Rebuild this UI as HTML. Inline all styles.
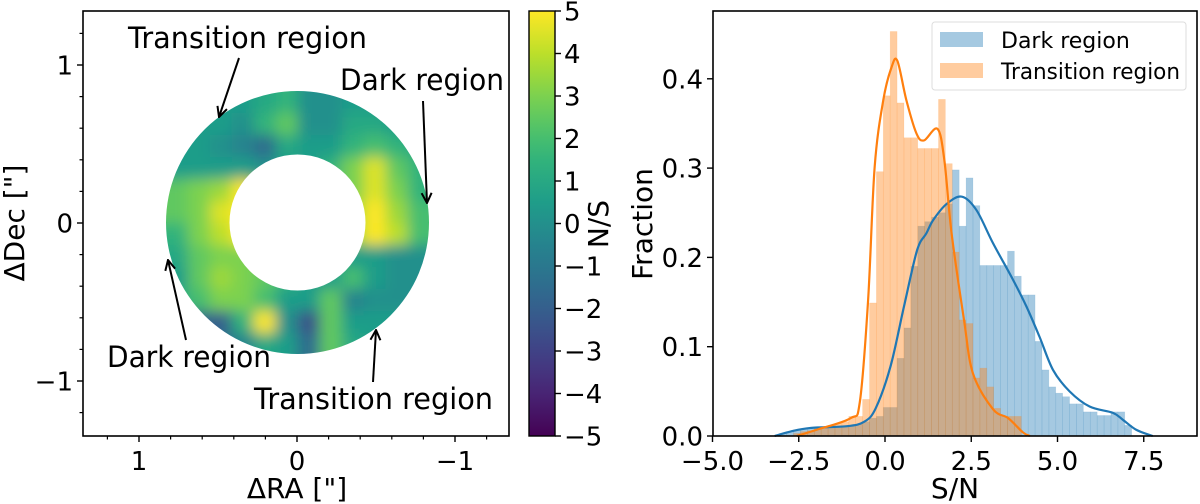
<!DOCTYPE html>
<html><head><meta charset="utf-8">
<style>
html,body{margin:0;padding:0;background:#fff;}
svg{display:block;font-family:"DejaVu Sans","Liberation Sans",sans-serif;}
</style></head>
<body>
<svg id="fig" width="1200" height="504" viewBox="0 0 1200 504" xmlns="http://www.w3.org/2000/svg">
<defs>
  <filter id="blur" x="-10%" y="-10%" width="120%" height="120%"><feGaussianBlur stdDeviation="7"/></filter>
  <clipPath id="ringClip"><path clip-rule="evenodd" d="M 166 222.5 A 131.5 131.5 0 1 0 429 222.5 A 131.5 131.5 0 1 0 166 222.5 Z M 229.5 222.5 A 68 68 0 1 1 365.5 222.5 A 68 68 0 1 1 229.5 222.5 Z"/></clipPath>
  <linearGradient id="viridisGrad" x1="0" y1="1" x2="0" y2="0"></linearGradient>
  <marker id="arrow" viewBox="0 0 12 12" refX="11" refY="6" markerWidth="12" markerHeight="12" markerUnits="userSpaceOnUse" orient="auto">
    <path d="M1 1 L11 6 L1 11" fill="none" stroke="#000" stroke-width="2"/>
  </marker>
</defs>
<g id="left"></g>
<g id="cbar"></g>
<g id="right"></g>
</svg>
<script>
// ---------- data ----------
const heatRows = [
  [0.5,0.5,0.5,0.5,1,1.5,0,0,0.5,0.5,0.5,0.5],
  [0.5,0.5,0.5,0,1.5,2.5,0,0,1,1,0.5,0.5],
  [0.5,0.5,0,-0.5,-1.5,1,0.5,0.5,1.5,2,1.5,1],
  [0.5,0.5,0.5,0.5,0,0.5,0.5,1.5,3,4.5,2.5,1.5],
  [2.5,3,3.5,5,2.5,1.5,1.5,1.5,3,4.5,3,1.5],
  [2.5,3,4.5,5,3.5,2.5,2.5,2.5,3.5,5,3.5,2],
  [1.5,3,4,5,3.5,2.5,2.5,2.5,3.5,5,4,2],
  [1,2.5,3,3,2.5,1.5,0.5,0.5,0.5,0.5,0,0],
  [0.5,2.5,3.5,3,2.5,1.5,0.5,0.5,2,0.5,0,0],
  [1,2,3,3,2,0.5,0.5,2.5,-0.5,0,0,0],
  [0,-2,-2,1.5,5,0,-2.5,2.5,0.5,0.5,0.5,0.5],
  [0,-0.5,-1.5,-0.5,1,0.5,-1.5,2.5,1,0.5,0.5,0.5]
];
const heatX0 = 0.83, heatX1 = -0.84, heatY0 = 0.835, heatY1 = -0.835; // arcsec extent of grid
const raTicks = [1,0,-1];
const decTicks = [1,0,-1];
const cbarTicks = [5,4,3,2,1,0,-1,-2,-3,-4,-5];

const binStartDark = -3.05, binStartTrans = -2.65, binWidth = 0.2;
const darkHist = [0.003,0.005,0.007,0.008,0.008,0.009,0.009,0.01,0.01,0.01,
 0.011,0.013,0.016,0.02,0.022,0.032,0.032,0.087,0.121,0.19,
 0.235,0.24,0.245,0.25,0.26,0.298,0.235,0.289,0.258,0.191,
 0.191,0.191,0.191,0.207,0.179,0.158,0.158,0.106,0.074,0.055,
 0.048,0.044,0.036,0.036,0.027,0.027,0.023,0.023,0.027,0.027,
 0.012];
const transHist = [0.003,0.005,0.006,0.008,0.01,0.012,0.014,0.016,0.022,0.022,
 0.041,0.149,0.296,0.381,0.453,0.373,0.334,0.334,0.322,0.322,
 0.322,0.377,0.305,0.206,0.13,0.126,0.065,0.076,0.055,0.031,
 0.022,0.022,0.022];
const darkKdeX = [-3.2,-2.74,-2.16,-1.1,-0.6,-0.27,0.16,0.55,0.93,1.2,1.4,1.79,2.23,2.65,3.13,3.71,4.1,4.48,4.87,5.35,5.93,6.6,6.9,7.28,7.76];
const darkKdeY = [0,0.005,0.009,0.011,0.016,0.031,0.078,0.145,0.208,0.227,0.242,0.26,0.268,0.253,0.216,0.175,0.145,0.111,0.074,0.05,0.033,0.026,0.018,0.007,0];
const transKdeX = [-2.56,-1.98,-1.0,-0.73,-0.49,-0.3,-0.05,0.19,0.36,0.62,0.91,1.13,1.52,1.72,1.93,2.29,2.55,3.13,3.57,4.0,4.2];
const transKdeY = [0,0.007,0.02,0.038,0.152,0.301,0.376,0.413,0.42,0.376,0.339,0.331,0.344,0.309,0.227,0.13,0.07,0.03,0.02,0.004,0];
const snTicks = [-5,-2.5,0,2.5,5,7.5];
const fracTicks = [0,0.1,0.2,0.3,0.4];

// ---------- helpers ----------
const NS = "http://www.w3.org/2000/svg";
function mk(tag, attrs, parent){ const e=document.createElementNS(NS,tag); for(const k in attrs) e.setAttribute(k,attrs[k]); if(parent) parent.appendChild(e); return e; }
const vir = ["#440154","#482878","#3e4989","#31688e","#26828e","#1f9e89","#35b779","#6ece58","#b5de2b","#fde725"];
function hex(h){return [parseInt(h.slice(1,3),16),parseInt(h.slice(3,5),16),parseInt(h.slice(5,7),16)];}
function viridis(t){ t=Math.max(0,Math.min(1,t)); const p=t*9, i=Math.min(8,Math.floor(p)), f=p-i; const a=hex(vir[i]), b=hex(vir[i+1]); return "rgb("+a.map((v,k)=>Math.round(v+(b[k]-v)*f)).join(",")+")"; }
function fmt(v){ return (v<0?"\u2212":"")+Math.abs(v); }
function fmt1(v){ return (v<0?"\u2212":"")+Math.abs(v).toFixed(1); }
function smooth(pts){ let d="M"+pts[0][0]+" "+pts[0][1]; for(let i=0;i<pts.length-1;i++){ const p0=pts[Math.max(0,i-1)],p1=pts[i],p2=pts[i+1],p3=pts[Math.min(pts.length-1,i+2)]; const c1=[p1[0]+(p2[0]-p0[0])/6,p1[1]+(p2[1]-p0[1])/6], c2=[p2[0]-(p3[0]-p1[0])/6,p2[1]-(p3[1]-p1[1])/6]; d+=" C"+c1.join(" ")+" "+c2.join(" ")+" "+p2.join(" "); } return d; }

// ---------- left panel ----------
const L = document.getElementById('left');
const xL = v => 297 - v*158, yL = v => 223 - v*158;
const heatG = mk('g',{'clip-path':'url(#ringClip)'},L);


const blurG = mk('g',{filter:'url(#blur)'},heatG);
const nr=heatRows.length, nc=heatRows[0].length;
const gx0=xL(heatX0), gx1=xL(heatX1), gy0=yL(heatY0), gy1=yL(heatY1);
const cw=(gx1-gx0)/nc, ch=(gy1-gy0)/nr;
heatRows.forEach((row,r)=>row.forEach((v,c)=>{
  let x=gx0+c*cw, y=gy0+r*ch, w=cw+0.5, h=ch+0.5;
  if(c===0){x-=25;w+=25;} if(c===nc-1){w+=25;} if(r===0){y-=25;h+=25;} if(r===nr-1){h+=25;}
  const cell=mk('rect',{x:x,y:y,width:w,height:h,fill:viridis((v+5)/10)},blurG);
  
  
}));
const lf=mk('rect',{x:83,y:11,width:426,height:425,fill:'none',stroke:'#000','stroke-width':1.6},L);
 
for(let k=-6;k<=6;k++){ const v=k*0.2; if(k%5===0) continue;
  mk('line',{x1:xL(v),x2:xL(v),y1:436,y2:439.5,stroke:'#000','stroke-width':1.2},L);
  mk('line',{x1:83,x2:79.5,y1:yL(v),y2:yL(v),stroke:'#000','stroke-width':1.2},L);
}
raTicks.forEach(v=>{
  mk('line',{x1:xL(v),x2:xL(v),y1:436,y2:442,stroke:'#000','stroke-width':1.4},L);
  const t=mk('text',{x:xL(v),y:470,'font-size':26,'text-anchor':'middle'},L); t.textContent=fmt(v);
   
});
decTicks.forEach(v=>{
  mk('line',{x1:83,x2:77,y1:yL(v),y2:yL(v),stroke:'#000','stroke-width':1.4},L);
  const t=mk('text',{x:73,y:yL(v)+9.5,'font-size':26,'text-anchor':'end'},L); t.textContent=fmt(v);
   
});
const xt=mk('text',{x:297,y:498,'font-size':28,'text-anchor':'middle'},L); xt.textContent='\u0394RA ["]';
 
const yt=mk('text',{x:0,y:0,'font-size':28,'text-anchor':'middle',transform:'translate(24,223) rotate(-90)'},L); yt.textContent='\u0394Dec ["]';
 
const ann=[
 {t:'Transition region',x:128,y:48,ax:[239,58,219,117]},
 {t:'Dark region',x:340,y:90,ax:[423,101,427,203]},
 {t:'Dark region',x:107,y:367,ax:[186,340,168,260]},
 {t:'Transition region',x:254,y:409,ax:[373,382,376,330]}
];
ann.forEach(a=>{
  const t=mk('text',{x:a.x,y:a.y,'font-size':29,textLength:(a.t.length>12?239:164),lengthAdjust:'spacingAndGlyphs'},L); t.textContent=a.t;
   
  const l=mk('line',{x1:a.ax[0],y1:a.ax[1],x2:a.ax[2],y2:a.ax[3],stroke:'#000','stroke-width':2,'marker-end':'url(#arrow)'},L);
   
});

// ---------- colorbar ----------
const C=document.getElementById('cbar');
const grad=document.getElementById('viridisGrad');
for(let i=0;i<=20;i++){ mk('stop',{offset:(i/20),'stop-color':viridis(i/20)},grad); }
const yC = v => 11 + (5-v)*42.5;
const cb=mk('rect',{x:529,y:11,width:26,height:425,fill:'url(#viridisGrad)',stroke:'#000','stroke-width':1.4},C);
 
cbarTicks.forEach(v=>{
  mk('line',{x1:555,x2:561,y1:yC(v),y2:yC(v),stroke:'#000','stroke-width':1.4},C);
  const t=mk('text',{x:564,y:yC(v)+9.5,'font-size':26},C); t.textContent=fmt(v);
   
});
const cl=mk('text',{x:0,y:0,'font-size':28,'text-anchor':'middle',transform:'translate(608,224) rotate(-90)'},C); cl.textContent='N/S';
 

// ---------- right panel ----------
const R=document.getElementById('right');
const xR = v => 885 + v*34.5, yR = v => 436 - v*893;
function bars(vals,start,fill,stroke,name){
  vals.forEach((v,i)=>{
    const x0=xR(start+i*binWidth), x1=xR(start+(i+1)*binWidth);
    const b=mk('rect',{x:x0,y:yR(v),width:x1-x0,height:yR(0)-yR(v),fill:fill,stroke:stroke,'stroke-width':0.6},R);
     
  });
}
bars(darkHist,binStartDark,'rgba(31,119,180,0.4)','rgba(31,119,180,0.15)','dark-region-bar');
bars(transHist,binStartTrans,'rgba(255,127,14,0.4)','rgba(255,127,14,0.15)','transition-region-bar');
const dk=mk('path',{d:smooth(darkKdeX.map((x,i)=>[xR(x),yR(darkKdeY[i])])),fill:'none',stroke:'#1f77b4','stroke-width':2.2},R);
 
const tk=mk('path',{d:smooth(transKdeX.map((x,i)=>[xR(x),yR(transKdeY[i])])),fill:'none',stroke:'#ff7f0e','stroke-width':2.2},R);
 
const rf=mk('rect',{x:713,y:11,width:484,height:425,fill:'none',stroke:'#000','stroke-width':1.6},R);
 
snTicks.forEach(v=>{
  mk('line',{x1:xR(v),x2:xR(v),y1:436,y2:442,stroke:'#000','stroke-width':1.4},R);
  const t=mk('text',{x:xR(v),y:470,'font-size':26,'text-anchor':'middle'},R); t.textContent=fmt1(v);
   
});
fracTicks.forEach(v=>{
  mk('line',{x1:713,x2:707,y1:yR(v),y2:yR(v),stroke:'#000','stroke-width':1.4},R);
  const t=mk('text',{x:703,y:yR(v)+9.5,'font-size':26,'text-anchor':'end'},R); t.textContent=v.toFixed(1);
   
});
const sx=mk('text',{x:955,y:498,'font-size':28,'text-anchor':'middle'},R); sx.textContent='S/N';
 
const sy=mk('text',{x:0,y:0,'font-size':28,'text-anchor':'middle',transform:'translate(652,224) rotate(-90)'},R); sy.textContent='Fraction';
 
const lg=mk('g',{},R);
 
mk('rect',{x:932,y:22,width:254,height:68,rx:3,fill:'rgba(255,255,255,0.8)',stroke:'#ddd','stroke-width':1},lg);
const lb=mk('rect',{x:940,y:32,width:43,height:15,fill:'rgba(31,119,180,0.4)'},lg);
 
const lo=mk('rect',{x:940,y:63,width:43,height:15,fill:'rgba(255,127,14,0.4)'},lg);
 
const l1=mk('text',{x:1001,y:48,'font-size':22},lg); l1.textContent='Dark region';
 
const l2=mk('text',{x:1001,y:79,'font-size':22,textLength:179,lengthAdjust:'spacingAndGlyphs'},lg); l2.textContent='Transition region';
 
</script>
</body></html>
